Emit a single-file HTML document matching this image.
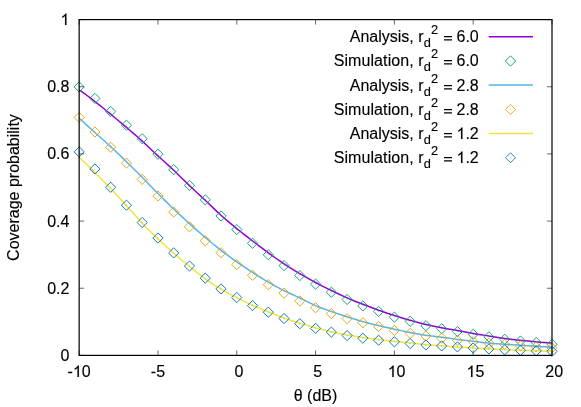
<!DOCTYPE html>
<html><head><meta charset="utf-8"><title>plot</title>
<style>
html,body{margin:0;padding:0;background:#fff;}
svg{display:block;font-family:"Liberation Sans",sans-serif;font-size:16px;fill:#000;will-change:transform;}
text,.g1{stroke:#000;stroke-width:0.13px;}
.g1{vector-effect:non-scaling-stroke;fill:#000;}
.h{fill-opacity:0;stroke-opacity:0;}
</style></head><body>
<svg width="581" height="407" viewBox="0 0 581 407">
<rect x="0" y="0" width="581" height="407" fill="#ffffff"/>
<path d="M79.15,355.40 v-5.00 M79.15,19.60 v5.00 M157.96,355.40 v-5.00 M157.96,19.60 v5.00 M236.77,355.40 v-5.00 M236.77,19.60 v5.00 M315.58,355.40 v-5.00 M315.58,19.60 v5.00 M394.38,355.40 v-5.00 M394.38,19.60 v5.00 M473.19,355.40 v-5.00 M473.19,19.60 v5.00 M552.00,355.40 v-5.00 M552.00,19.60 v5.00 M79.15,355.40 h5.00 M552.00,355.40 h-5.00 M79.15,288.24 h5.00 M552.00,288.24 h-5.00 M79.15,221.08 h5.00 M552.00,221.08 h-5.00 M79.15,153.92 h5.00 M552.00,153.92 h-5.00 M79.15,86.76 h5.00 M552.00,86.76 h-5.00 M79.15,19.60 h5.00 M552.00,19.60 h-5.00" stroke="#000" stroke-width="0.6" fill="none"/>
<text x="67.59" y="377">-<tspan class="h">1</tspan>0</text><path transform="translate(72.92,377.00) scale(0.0078125,-0.0078125)" d="M763 0H583V1147Q518 1085 412.5 1023T223 930V1104Q373 1174.5 485.5 1275T647 1470H763Z" class="g1"/>
<text x="150.85" y="377">-5</text>
<text x="234.54" y="377">0</text>
<text x="313.35" y="377">5</text>
<text x="387.71" y="377"><tspan class="h">1</tspan>0</text><path transform="translate(387.71,377.00) scale(0.0078125,-0.0078125)" d="M763 0H583V1147Q518 1085 412.5 1023T223 930V1104Q373 1174.5 485.5 1275T647 1470H763Z" class="g1"/>
<text x="466.52" y="377"><tspan class="h">1</tspan>5</text><path transform="translate(466.52,377.00) scale(0.0078125,-0.0078125)" d="M763 0H583V1147Q518 1085 412.5 1023T223 930V1104Q373 1174.5 485.5 1275T647 1470H763Z" class="g1"/>
<text x="545.32" y="377">20</text>
<text x="60.50" y="361">0</text>
<text x="47.16" y="294">0.2</text>
<text x="47.16" y="227">0.4</text>
<text x="47.16" y="159">0.6</text>
<text x="47.16" y="92">0.8</text>
<text x="60.50" y="25"><tspan class="h">1</tspan></text><path transform="translate(60.50,25.00) scale(0.0078125,-0.0078125)" d="M763 0H583V1147Q518 1085 412.5 1023T223 930V1104Q373 1174.5 485.5 1275T647 1470H763Z" class="g1"/>
<text x="315.50" y="401.00" text-anchor="middle">θ (dB)</text>
<text transform="translate(18.80,187.50) rotate(-90)" text-anchor="middle">Coverage probability</text>
<path d="M79.15,89.80 L83.09,92.60 L87.03,95.49 L90.97,98.46 L94.91,101.50 L98.85,104.60 L102.79,107.76 L106.73,110.96 L110.67,114.20 L114.61,117.47 L118.55,120.76 L122.49,124.07 L126.44,127.40 L130.38,130.74 L134.32,134.12 L138.26,137.56 L142.20,141.10 L146.14,144.75 L150.08,148.48 L154.02,152.21 L157.96,155.90 L161.90,159.50 L165.84,163.06 L169.78,166.64 L173.72,170.30 L177.66,174.08 L181.60,177.93 L185.54,181.79 L189.48,185.60 L193.42,189.31 L197.36,192.96 L201.30,196.61 L205.24,200.30 L209.18,204.07 L213.12,207.88 L217.06,211.64 L221.01,215.30 L224.95,218.80 L228.89,222.16 L232.83,225.41 L236.77,228.60 L240.71,231.75 L244.65,234.87 L248.59,237.96 L252.53,241.00 L256.47,244.00 L260.41,246.97 L264.35,249.90 L268.29,252.80 L272.23,255.67 L276.17,258.49 L280.11,261.24 L284.05,263.90 L287.99,266.45 L291.93,268.90 L295.87,271.27 L299.81,273.60 L303.75,275.89 L307.69,278.15 L311.63,280.36 L315.58,282.50 L319.52,284.57 L323.46,286.59 L327.40,288.56 L331.34,290.50 L335.28,292.42 L339.22,294.30 L343.16,296.14 L347.10,297.90 L351.04,299.58 L354.98,301.20 L358.92,302.77 L362.86,304.30 L366.80,305.82 L370.74,307.31 L374.68,308.77 L378.62,310.20 L382.56,311.58 L386.50,312.92 L390.44,314.22 L394.38,315.50 L398.32,316.75 L402.26,317.97 L406.20,319.16 L410.14,320.30 L414.09,321.39 L418.03,322.44 L421.97,323.44 L425.91,324.40 L429.85,325.33 L433.79,326.21 L437.73,327.04 L441.67,327.80 L445.61,328.50 L449.55,329.16 L453.49,329.81 L457.43,330.50 L461.37,331.24 L465.31,332.01 L469.25,332.78 L473.19,333.50 L477.13,334.16 L481.07,334.77 L485.01,335.38 L488.95,336.00 L492.89,336.67 L496.83,337.35 L500.77,338.00 L504.72,338.60 L508.66,339.11 L512.60,339.54 L516.54,339.93 L520.48,340.30 L524.42,340.67 L528.36,341.05 L532.30,341.43 L536.24,341.80 L540.18,342.17 L544.12,342.53 L548.06,342.87 L552.00,343.20" fill="none" stroke="#9400d3" stroke-width="1.50" stroke-linejoin="round"/>
<path d="M74.05,86.90 l5.10,5.10 l5.10,-5.10 l-5.10,-5.10 z M89.81,98.40 l5.10,5.10 l5.10,-5.10 l-5.10,-5.10 z M105.57,111.50 l5.10,5.10 l5.10,-5.10 l-5.10,-5.10 z M121.34,125.20 l5.10,5.10 l5.10,-5.10 l-5.10,-5.10 z M137.10,138.70 l5.10,5.10 l5.10,-5.10 l-5.10,-5.10 z M152.86,154.20 l5.10,5.10 l5.10,-5.10 l-5.10,-5.10 z M168.62,169.70 l5.10,5.10 l5.10,-5.10 l-5.10,-5.10 z M184.38,185.40 l5.10,5.10 l5.10,-5.10 l-5.10,-5.10 z M200.14,199.80 l5.10,5.10 l5.10,-5.10 l-5.10,-5.10 z M215.91,216.00 l5.10,5.10 l5.10,-5.10 l-5.10,-5.10 z M231.67,229.60 l5.10,5.10 l5.10,-5.10 l-5.10,-5.10 z M247.43,243.30 l5.10,5.10 l5.10,-5.10 l-5.10,-5.10 z M263.19,254.75 l5.10,5.10 l5.10,-5.10 l-5.10,-5.10 z M278.95,265.60 l5.10,5.10 l5.10,-5.10 l-5.10,-5.10 z M294.71,275.50 l5.10,5.10 l5.10,-5.10 l-5.10,-5.10 z M310.48,284.10 l5.10,5.10 l5.10,-5.10 l-5.10,-5.10 z M326.24,292.20 l5.10,5.10 l5.10,-5.10 l-5.10,-5.10 z M342.00,299.50 l5.10,5.10 l5.10,-5.10 l-5.10,-5.10 z M357.76,305.90 l5.10,5.10 l5.10,-5.10 l-5.10,-5.10 z M373.52,311.40 l5.10,5.10 l5.10,-5.10 l-5.10,-5.10 z M389.28,317.10 l5.10,5.10 l5.10,-5.10 l-5.10,-5.10 z M405.04,321.30 l5.10,5.10 l5.10,-5.10 l-5.10,-5.10 z M420.81,325.70 l5.10,5.10 l5.10,-5.10 l-5.10,-5.10 z M436.57,328.70 l5.10,5.10 l5.10,-5.10 l-5.10,-5.10 z M452.33,331.50 l5.10,5.10 l5.10,-5.10 l-5.10,-5.10 z M468.09,334.30 l5.10,5.10 l5.10,-5.10 l-5.10,-5.10 z M483.85,336.90 l5.10,5.10 l5.10,-5.10 l-5.10,-5.10 z M499.62,339.30 l5.10,5.10 l5.10,-5.10 l-5.10,-5.10 z M515.38,341.00 l5.10,5.10 l5.10,-5.10 l-5.10,-5.10 z M531.14,342.50 l5.10,5.10 l5.10,-5.10 l-5.10,-5.10 z M546.90,344.30 l5.10,5.10 l5.10,-5.10 l-5.10,-5.10 z" fill="none" stroke="#009e73" stroke-width="1.00" stroke-opacity="0.92" stroke-linejoin="miter"/><path d="M79.05,86.30 v1.2 M94.81,97.80 v1.2 M110.57,110.90 v1.2 M126.34,124.60 v1.2 M142.10,138.10 v1.2 M157.86,153.60 v1.2 M173.62,169.10 v1.2 M189.38,184.80 v1.2 M205.14,199.20 v1.2 M220.91,215.40 v1.2 M236.67,229.00 v1.2 M252.43,242.70 v1.2 M268.19,254.15 v1.2 M283.95,265.00 v1.2 M299.71,274.90 v1.2 M315.48,283.50 v1.2 M331.24,291.60 v1.2 M347.00,298.90 v1.2 M362.76,305.30 v1.2 M378.52,310.80 v1.2 M394.28,316.50 v1.2 M410.04,320.70 v1.2 M425.81,325.10 v1.2 M441.57,328.10 v1.2 M457.33,330.90 v1.2 M473.09,333.70 v1.2 M488.85,336.30 v1.2 M504.62,338.70 v1.2 M520.38,340.40 v1.2 M536.14,341.90 v1.2 M551.90,343.70 v1.2" fill="none" stroke="#009e73" stroke-width="0.8" opacity="0.35"/>
<path d="M79.15,118.00 L83.09,121.77 L87.03,125.42 L90.97,128.99 L94.91,132.50 L98.85,135.98 L102.79,139.48 L106.73,143.00 L110.67,146.60 L114.61,150.29 L118.55,154.05 L122.49,157.86 L126.44,161.70 L130.38,165.55 L134.32,169.42 L138.26,173.33 L142.20,177.30 L146.14,181.33 L150.08,185.40 L154.02,189.47 L157.96,193.50 L161.90,197.47 L165.84,201.37 L169.78,205.22 L173.72,209.00 L177.66,212.73 L181.60,216.40 L185.54,220.03 L189.48,223.60 L193.42,227.12 L197.36,230.60 L201.30,234.02 L205.24,237.40 L209.18,240.73 L213.12,244.00 L217.06,247.20 L221.01,250.30 L224.95,253.30 L228.89,256.21 L232.83,259.03 L236.77,261.80 L240.71,264.52 L244.65,267.19 L248.59,269.81 L252.53,272.40 L256.47,274.95 L260.41,277.44 L264.35,279.86 L268.29,282.20 L272.23,284.44 L276.17,286.59 L280.11,288.64 L284.05,290.60 L287.99,292.48 L291.93,294.30 L295.87,296.13 L299.81,298.00 L303.75,299.94 L307.69,301.89 L311.63,303.80 L315.58,305.60 L319.52,307.23 L323.46,308.73 L327.40,310.14 L331.34,311.50 L335.28,312.85 L339.22,314.18 L343.16,315.50 L347.10,316.80 L351.04,318.07 L354.98,319.29 L358.92,320.47 L362.86,321.60 L366.80,322.67 L370.74,323.68 L374.68,324.65 L378.62,325.60 L382.56,326.53 L386.50,327.44 L390.44,328.33 L394.38,329.20 L398.32,330.06 L402.26,330.89 L406.20,331.71 L410.14,332.50 L414.09,333.27 L418.03,334.00 L421.97,334.68 L425.91,335.30 L429.85,335.85 L433.79,336.34 L437.73,336.82 L441.67,337.30 L445.61,337.81 L449.55,338.34 L453.49,338.88 L457.43,339.40 L461.37,339.89 L465.31,340.37 L469.25,340.83 L473.19,341.30 L477.13,341.77 L481.07,342.24 L485.01,342.69 L488.95,343.10 L492.89,343.46 L496.83,343.79 L500.77,344.08 L504.72,344.35 L508.66,344.61 L512.60,344.86 L516.54,345.11 L520.48,345.35 L524.42,345.59 L528.36,345.83 L532.30,346.07 L536.24,346.30 L540.18,346.53 L544.12,346.76 L548.06,346.98 L552.00,347.20" fill="none" stroke="#56b4e9" stroke-width="1.50" stroke-linejoin="round"/>
<path d="M74.05,117.40 l5.10,5.10 l5.10,-5.10 l-5.10,-5.10 z M89.81,132.00 l5.10,5.10 l5.10,-5.10 l-5.10,-5.10 z M105.57,147.30 l5.10,5.10 l5.10,-5.10 l-5.10,-5.10 z M121.34,163.20 l5.10,5.10 l5.10,-5.10 l-5.10,-5.10 z M137.10,179.40 l5.10,5.10 l5.10,-5.10 l-5.10,-5.10 z M152.86,196.00 l5.10,5.10 l5.10,-5.10 l-5.10,-5.10 z M168.62,212.10 l5.10,5.10 l5.10,-5.10 l-5.10,-5.10 z M184.38,226.80 l5.10,5.10 l5.10,-5.10 l-5.10,-5.10 z M200.14,240.80 l5.10,5.10 l5.10,-5.10 l-5.10,-5.10 z M215.91,252.75 l5.10,5.10 l5.10,-5.10 l-5.10,-5.10 z M231.67,264.60 l5.10,5.10 l5.10,-5.10 l-5.10,-5.10 z M247.43,275.30 l5.10,5.10 l5.10,-5.10 l-5.10,-5.10 z M263.19,284.70 l5.10,5.10 l5.10,-5.10 l-5.10,-5.10 z M278.95,293.10 l5.10,5.10 l5.10,-5.10 l-5.10,-5.10 z M294.71,300.85 l5.10,5.10 l5.10,-5.10 l-5.10,-5.10 z M310.48,307.75 l5.10,5.10 l5.10,-5.10 l-5.10,-5.10 z M326.24,313.60 l5.10,5.10 l5.10,-5.10 l-5.10,-5.10 z M342.00,318.60 l5.10,5.10 l5.10,-5.10 l-5.10,-5.10 z M357.76,322.80 l5.10,5.10 l5.10,-5.10 l-5.10,-5.10 z M373.52,326.50 l5.10,5.10 l5.10,-5.10 l-5.10,-5.10 z M389.28,330.40 l5.10,5.10 l5.10,-5.10 l-5.10,-5.10 z M405.04,333.40 l5.10,5.10 l5.10,-5.10 l-5.10,-5.10 z M420.81,336.00 l5.10,5.10 l5.10,-5.10 l-5.10,-5.10 z M436.57,338.20 l5.10,5.10 l5.10,-5.10 l-5.10,-5.10 z M452.33,340.40 l5.10,5.10 l5.10,-5.10 l-5.10,-5.10 z M468.09,341.65 l5.10,5.10 l5.10,-5.10 l-5.10,-5.10 z M483.85,343.30 l5.10,5.10 l5.10,-5.10 l-5.10,-5.10 z M499.62,344.40 l5.10,5.10 l5.10,-5.10 l-5.10,-5.10 z M515.38,345.85 l5.10,5.10 l5.10,-5.10 l-5.10,-5.10 z M531.14,346.90 l5.10,5.10 l5.10,-5.10 l-5.10,-5.10 z M546.90,347.90 l5.10,5.10 l5.10,-5.10 l-5.10,-5.10 z" fill="none" stroke="#e69f00" stroke-width="1.00" stroke-opacity="0.92" stroke-linejoin="miter"/><path d="M79.05,116.80 v1.2 M94.81,131.40 v1.2 M110.57,146.70 v1.2 M126.34,162.60 v1.2 M142.10,178.80 v1.2 M157.86,195.40 v1.2 M173.62,211.50 v1.2 M189.38,226.20 v1.2 M205.14,240.20 v1.2 M220.91,252.15 v1.2 M236.67,264.00 v1.2 M252.43,274.70 v1.2 M268.19,284.10 v1.2 M283.95,292.50 v1.2 M299.71,300.25 v1.2 M315.48,307.15 v1.2 M331.24,313.00 v1.2 M347.00,318.00 v1.2 M362.76,322.20 v1.2 M378.52,325.90 v1.2 M394.28,329.80 v1.2 M410.04,332.80 v1.2 M425.81,335.40 v1.2 M441.57,337.60 v1.2 M457.33,339.80 v1.2 M473.09,341.05 v1.2 M488.85,342.70 v1.2 M504.62,343.80 v1.2 M520.38,345.25 v1.2 M536.14,346.30 v1.2 M551.90,347.30 v1.2" fill="none" stroke="#e69f00" stroke-width="0.8" opacity="0.35"/>
<path d="M79.15,157.30 L83.09,160.98 L87.03,164.74 L90.97,168.59 L94.91,172.50 L98.85,176.48 L102.79,180.51 L106.73,184.58 L110.67,188.70 L114.61,192.85 L118.55,197.05 L122.49,201.29 L126.44,205.60 L130.38,209.97 L134.32,214.36 L138.26,218.72 L142.20,223.00 L146.14,227.16 L150.08,231.19 L154.02,235.10 L157.96,238.90 L161.90,242.60 L165.84,246.21 L169.78,249.74 L173.72,253.20 L177.66,256.60 L181.60,259.95 L185.54,263.25 L189.48,266.50 L193.42,269.70 L197.36,272.83 L201.30,275.87 L205.24,278.80 L209.18,281.61 L213.12,284.28 L217.06,286.81 L221.01,289.20 L224.95,291.44 L228.89,293.57 L232.83,295.61 L236.77,297.60 L240.71,299.57 L244.65,301.51 L248.59,303.39 L252.53,305.20 L256.47,306.93 L260.41,308.58 L264.35,310.20 L268.29,311.80 L272.23,313.40 L276.17,314.98 L280.11,316.52 L284.05,318.00 L287.99,319.39 L291.93,320.71 L295.87,321.98 L299.81,323.20 L303.75,324.39 L307.69,325.56 L311.63,326.70 L315.58,327.80 L319.52,328.87 L323.46,329.90 L327.40,330.88 L331.34,331.80 L335.28,332.66 L339.22,333.45 L343.16,334.20 L347.10,334.90 L351.04,335.56 L354.98,336.19 L358.92,336.80 L362.86,337.40 L366.80,337.99 L370.74,338.55 L374.68,339.10 L378.62,339.60 L382.56,340.06 L386.50,340.49 L390.44,340.89 L394.38,341.30 L398.32,341.72 L402.26,342.14 L406.20,342.57 L410.14,343.00 L414.09,343.43 L418.03,343.84 L421.97,344.24 L425.91,344.60 L429.85,344.92 L433.79,345.22 L437.73,345.51 L441.67,345.80 L445.61,346.11 L449.55,346.42 L453.49,346.72 L457.43,347.00 L461.37,347.24 L465.31,347.46 L469.25,347.67 L473.19,347.90 L477.13,348.15 L481.07,348.41 L485.01,348.67 L488.95,348.90 L492.89,349.10 L496.83,349.27 L500.77,349.44 L504.72,349.60 L508.66,349.77 L512.60,349.96 L516.54,350.13 L520.48,350.30 L524.42,350.45 L528.36,350.58 L532.30,350.69 L536.24,350.80 L540.18,350.90 L544.12,351.00 L548.06,351.10 L552.00,351.20" fill="none" stroke="#f0e442" stroke-width="1.50" stroke-linejoin="round"/>
<path d="M74.05,151.85 l5.10,5.10 l5.10,-5.10 l-5.10,-5.10 z M89.81,168.95 l5.10,5.10 l5.10,-5.10 l-5.10,-5.10 z M105.57,187.30 l5.10,5.10 l5.10,-5.10 l-5.10,-5.10 z M121.34,205.20 l5.10,5.10 l5.10,-5.10 l-5.10,-5.10 z M137.10,222.50 l5.10,5.10 l5.10,-5.10 l-5.10,-5.10 z M152.86,238.00 l5.10,5.10 l5.10,-5.10 l-5.10,-5.10 z M168.62,252.90 l5.10,5.10 l5.10,-5.10 l-5.10,-5.10 z M184.38,266.00 l5.10,5.10 l5.10,-5.10 l-5.10,-5.10 z M200.14,278.20 l5.10,5.10 l5.10,-5.10 l-5.10,-5.10 z M215.91,288.90 l5.10,5.10 l5.10,-5.10 l-5.10,-5.10 z M231.67,297.50 l5.10,5.10 l5.10,-5.10 l-5.10,-5.10 z M247.43,305.60 l5.10,5.10 l5.10,-5.10 l-5.10,-5.10 z M263.19,312.20 l5.10,5.10 l5.10,-5.10 l-5.10,-5.10 z M278.95,318.50 l5.10,5.10 l5.10,-5.10 l-5.10,-5.10 z M294.71,323.70 l5.10,5.10 l5.10,-5.10 l-5.10,-5.10 z M310.48,328.40 l5.10,5.10 l5.10,-5.10 l-5.10,-5.10 z M326.24,332.10 l5.10,5.10 l5.10,-5.10 l-5.10,-5.10 z M342.00,335.60 l5.10,5.10 l5.10,-5.10 l-5.10,-5.10 z M357.76,338.20 l5.10,5.10 l5.10,-5.10 l-5.10,-5.10 z M373.52,340.20 l5.10,5.10 l5.10,-5.10 l-5.10,-5.10 z M389.28,341.80 l5.10,5.10 l5.10,-5.10 l-5.10,-5.10 z M405.04,343.50 l5.10,5.10 l5.10,-5.10 l-5.10,-5.10 z M420.81,345.00 l5.10,5.10 l5.10,-5.10 l-5.10,-5.10 z M436.57,345.90 l5.10,5.10 l5.10,-5.10 l-5.10,-5.10 z M452.33,346.90 l5.10,5.10 l5.10,-5.10 l-5.10,-5.10 z M468.09,348.00 l5.10,5.10 l5.10,-5.10 l-5.10,-5.10 z M483.85,348.90 l5.10,5.10 l5.10,-5.10 l-5.10,-5.10 z M499.62,349.80 l5.10,5.10 l5.10,-5.10 l-5.10,-5.10 z M515.38,350.30 l5.10,5.10 l5.10,-5.10 l-5.10,-5.10 z M531.14,350.80 l5.10,5.10 l5.10,-5.10 l-5.10,-5.10 z M546.90,351.30 l5.10,5.10 l5.10,-5.10 l-5.10,-5.10 z" fill="none" stroke="#0072b2" stroke-width="1.00" stroke-opacity="0.92" stroke-linejoin="miter"/><path d="M79.05,151.25 v1.2 M94.81,168.35 v1.2 M110.57,186.70 v1.2 M126.34,204.60 v1.2 M142.10,221.90 v1.2 M157.86,237.40 v1.2 M173.62,252.30 v1.2 M189.38,265.40 v1.2 M205.14,277.60 v1.2 M220.91,288.30 v1.2 M236.67,296.90 v1.2 M252.43,305.00 v1.2 M268.19,311.60 v1.2 M283.95,317.90 v1.2 M299.71,323.10 v1.2 M315.48,327.80 v1.2 M331.24,331.50 v1.2 M347.00,335.00 v1.2 M362.76,337.60 v1.2 M378.52,339.60 v1.2 M394.28,341.20 v1.2 M410.04,342.90 v1.2 M425.81,344.40 v1.2 M441.57,345.30 v1.2 M457.33,346.30 v1.2 M473.09,347.40 v1.2 M488.85,348.30 v1.2 M504.62,349.20 v1.2 M520.38,349.70 v1.2 M536.14,350.20 v1.2 M551.90,350.70 v1.2" fill="none" stroke="#0072b2" stroke-width="0.8" opacity="0.35"/>
<text><tspan x="349.75" y="42">Analysis, r</tspan><tspan x="423.67" y="47" font-size="12.8px">d</tspan><tspan x="430.90" y="34" font-size="12.8px">2</tspan><tspan x="439.5" y="42" class="h"> = </tspan><tspan x="456.50" y="42">6.0</tspan></text>
<path d="M444.0,36.55 h8.0 M444.0,39.85 h8.0" stroke="#000" stroke-width="1.2" fill="none"/>
<path d="M488.7,36.70 H533.0" stroke="#9400d3" stroke-width="1.50" fill="none"/>
<text><tspan x="333.70" y="66" letter-spacing="0.084">Simulation, r</tspan><tspan x="423.67" y="71" font-size="12.8px">d</tspan><tspan x="430.90" y="58" font-size="12.8px">2</tspan><tspan x="439.5" y="66" class="h"> = </tspan><tspan x="456.50" y="66">6.0</tspan></text>
<path d="M444.0,60.55 h8.0 M444.0,63.85 h8.0" stroke="#000" stroke-width="1.2" fill="none"/>
<path d="M505.30,61.00 l5.20,5.20 l5.20,-5.20 l-5.20,-5.20 z" fill="none" stroke="#009e73" stroke-width="0.90" stroke-opacity="1.00"/>
<path d="M510.4,60.40 v1.2" fill="none" stroke="#009e73" stroke-width="0.8" opacity="0.35"/>
<text><tspan x="349.75" y="91">Analysis, r</tspan><tspan x="423.67" y="96" font-size="12.8px">d</tspan><tspan x="430.90" y="83" font-size="12.8px">2</tspan><tspan x="439.5" y="91" class="h"> = </tspan><tspan x="456.50" y="91">2.8</tspan></text>
<path d="M444.0,85.55 h8.0 M444.0,88.85 h8.0" stroke="#000" stroke-width="1.2" fill="none"/>
<path d="M488.7,85.10 H533.0" stroke="#56b4e9" stroke-width="1.50" fill="none"/>
<text><tspan x="333.70" y="115" letter-spacing="0.084">Simulation, r</tspan><tspan x="423.67" y="120" font-size="12.8px">d</tspan><tspan x="430.90" y="107" font-size="12.8px">2</tspan><tspan x="439.5" y="115" class="h"> = </tspan><tspan x="456.50" y="115">2.8</tspan></text>
<path d="M444.0,109.55 h8.0 M444.0,112.85 h8.0" stroke="#000" stroke-width="1.2" fill="none"/>
<path d="M505.50,109.45 l5.00,5.00 l5.00,-5.00 l-5.00,-5.00 z" fill="none" stroke="#e69f00" stroke-width="1.00" stroke-opacity="0.85"/>
<path d="M510.4,108.80 v1.2" fill="none" stroke="#e69f00" stroke-width="0.8" opacity="0.35"/>
<text><tspan x="349.75" y="139">Analysis, r</tspan><tspan x="423.67" y="144" font-size="12.8px">d</tspan><tspan x="430.90" y="131" font-size="12.8px">2</tspan><tspan x="439.5" y="139" class="h"> = </tspan><tspan x="456.50" y="139"><tspan class="h">1</tspan>.2</tspan></text>
<path d="M444.0,133.55 h8.0 M444.0,136.85 h8.0" stroke="#000" stroke-width="1.2" fill="none"/>
<path transform="translate(456.50,139) scale(0.0078125,-0.0078125)" d="M763 0H583V1147Q518 1085 412.5 1023T223 930V1104Q373 1174.5 485.5 1275T647 1470H763Z" class="g1"/>
<path d="M488.7,133.50 H533.0" stroke="#f0e442" stroke-width="1.50" fill="none"/>
<text><tspan x="333.70" y="163" letter-spacing="0.084">Simulation, r</tspan><tspan x="423.67" y="168" font-size="12.8px">d</tspan><tspan x="430.90" y="155" font-size="12.8px">2</tspan><tspan x="439.5" y="163" class="h"> = </tspan><tspan x="456.50" y="163"><tspan class="h">1</tspan>.2</tspan></text>
<path d="M444.0,157.55 h8.0 M444.0,160.85 h8.0" stroke="#000" stroke-width="1.2" fill="none"/>
<path transform="translate(456.50,163) scale(0.0078125,-0.0078125)" d="M763 0H583V1147Q518 1085 412.5 1023T223 930V1104Q373 1174.5 485.5 1275T647 1470H763Z" class="g1"/>
<path d="M505.50,157.75 l5.00,5.00 l5.00,-5.00 l-5.00,-5.00 z" fill="none" stroke="#0072b2" stroke-width="1.00" stroke-opacity="0.85"/>
<path d="M510.4,157.20 v1.2" fill="none" stroke="#0072b2" stroke-width="0.8" opacity="0.35"/>
<rect x="79.15" y="19.60" width="472.85" height="335.80" fill="none" stroke="#000" stroke-width="1.2"/>
</svg></body></html>
